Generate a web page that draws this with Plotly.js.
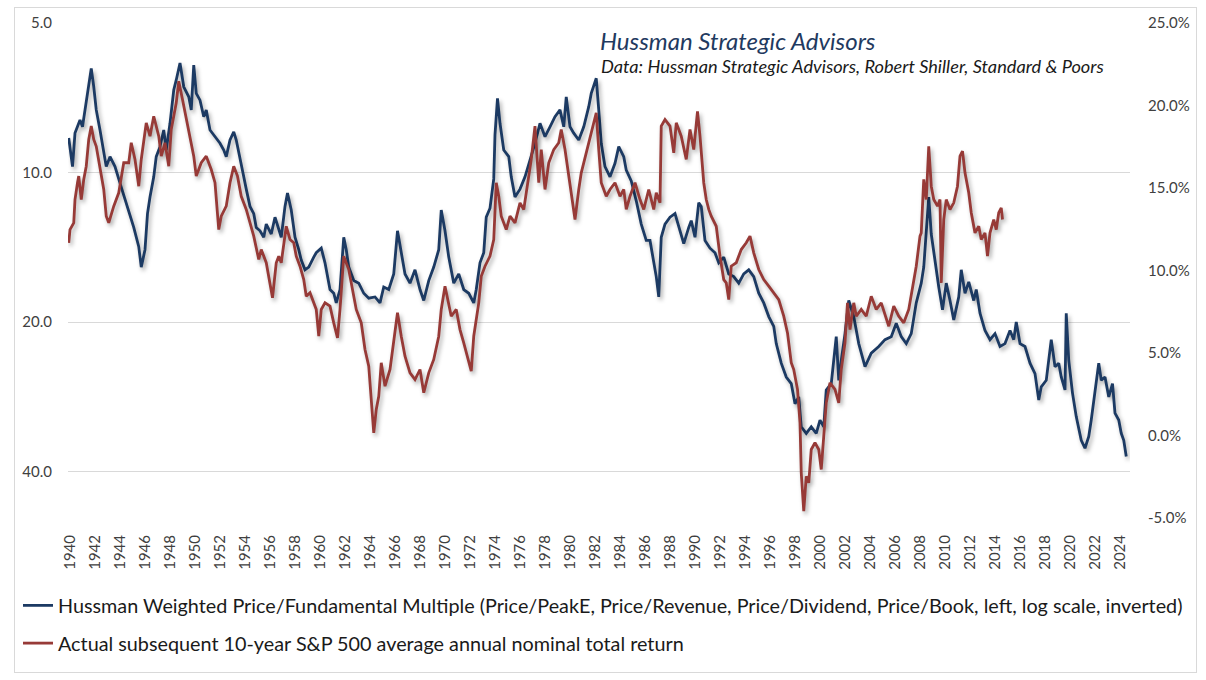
<!DOCTYPE html>
<html>
<head>
<meta charset="utf-8">
<script src="https://cdn.plot.ly/plotly-3.0.1.min.js"></script>
<style>
  html, body { margin: 0; padding: 0; background: #ffffff; }
  #wrap { position: relative; width: 1206px; height: 680px; }
  #chart { width: 1206px; height: 680px; }
  #frame { position: absolute; left: 14px; top: 7px; width: 1181px; height: 664px;
           border: 1px solid #d9d9d9; pointer-events: none; }
  .scatterlayer .js-line { filter: drop-shadow(2px 3px 2px rgba(0,0,0,0.33)); }
</style>
</head>
<body>
<div id="wrap">
  <div id="chart"></div>
  <div id="frame"></div>
</div>
<script>
// Hussman Weighted Price/Fundamental Multiple (left axis, log, inverted)
const blueYears = [
  1939.9,1940.2,1940.4,1940.8,1941.0,1941.2,1941.5,1941.7,1941.9,1942.1,1942.4,1942.7,1942.9,1943.2,1943.6,
  1944.0,1944.5,1945.1,1945.5,1945.7,1946.0,1946.2,1946.4,1946.7,1946.9,1947.2,1947.5,1947.7,1948.0,1948.3,
  1948.5,1948.8,1949.1,1949.5,1949.7,1949.9,1950.1,1950.4,1950.7,1950.9,1951.2,1951.6,1952.0,1952.3,1952.5,
  1952.8,1953.1,1953.3,1953.6,1953.9,1954.1,1954.4,1954.7,1954.9,1955.2,1955.5,1955.7,1956.1,1956.4,1956.7,
  1956.9,1957.2,1957.4,1957.7,1958.0,1958.3,1958.5,1958.8,1959.1,1959.5,1959.7,1960.1,1960.4,1960.8,1961.1,
  1961.3,1961.6,1961.9,1962.1,1962.3,1962.7,1963.1,1963.5,1963.9,1964.4,1964.8,1965.1,1965.5,1965.9,1966.2,
  1966.5,1966.8,1967.2,1967.6,1968.0,1968.3,1968.7,1969.1,1969.5,1969.7,1970.0,1970.3,1970.7,1971.1,1971.5,
  1971.9,1972.3,1972.5,1972.8,1973.1,1973.3,1973.6,1973.9,1974.0,1974.2,1974.4,1974.7,1975.1,1975.3,1975.6,
  1976.0,1976.4,1976.8,1977.2,1977.6,1978.0,1978.4,1978.8,1979.2,1979.5,1979.7,1980.0,1980.3,1980.7,1981.1,
  1981.5,1981.7,1982.1,1982.3,1982.5,1982.8,1983.2,1983.6,1983.9,1984.3,1984.5,1984.9,1985.3,1985.7,1986.1,
  1986.4,1986.7,1986.9,1987.1,1987.3,1987.6,1988.0,1988.4,1988.7,1989.1,1989.5,1989.7,1990.0,1990.3,1990.5,
  1990.8,1991.2,1991.6,1991.9,1992.3,1992.7,1993.1,1993.5,1993.9,1994.3,1994.7,1995.1,1995.5,1995.9,1996.3,
  1996.5,1996.9,1997.3,1997.7,1998.0,1998.3,1998.5,1998.9,1999.3,1999.7,2000.0,2000.3,2000.5,2000.9,2001.3,
  2001.5,2001.7,2002.0,2002.3,2002.7,2003.1,2003.6,2004.1,2004.7,2005.2,2005.7,2006.1,2006.5,2006.9,2007.3,
  2007.7,2008.1,2008.3,2008.5,2008.7,2008.9,2009.2,2009.5,2009.8,2010.1,2010.4,2010.7,2011.1,2011.3,2011.6,
  2011.9,2012.3,2012.5,2012.8,2013.2,2013.6,2014.0,2014.4,2014.8,2015.2,2015.5,2015.7,2016.0,2016.4,2016.8,
  2017.2,2017.5,2017.7,2018.1,2018.5,2018.8,2019.1,2019.3,2019.6,2019.7,2019.9,2020.2,2020.5,2020.9,2021.2,
  2021.5,2021.7,2022.0,2022.3,2022.5,2022.8,2023.1,2023.4,2023.6,2023.9,2024.1,2024.3,2024.5
];
const blueValues = [
  8.52,9.73,8.33,7.84,8.09,7.48,6.61,6.17,6.72,7.48,8.21,9.15,9.73,9.29,9.73,
  10.5,11.5,12.9,14.1,15.5,14.3,12.1,11.2,10.2,9.29,8.87,8.21,9.01,7.96,6.82,
  6.51,6.02,6.72,7.04,7.48,6.08,6.93,7.15,7.72,7.48,8.21,8.47,8.73,9.01,9.29,
  8.60,8.28,8.60,9.44,10.2,10.8,11.7,12.1,12.9,13.1,13.5,12.7,13.3,12.3,13.1,
  13.5,11.7,11.0,11.9,13.5,14.3,15.0,15.7,15.5,14.8,14.5,14.2,15.2,17.2,17.5,
  18.3,17.2,13.5,14.3,15.5,16.5,16.7,17.5,17.9,17.8,18.3,17.0,17.2,16.0,13.1,
  14.5,16.0,16.7,15.7,17.2,18.1,16.5,15.5,14.3,11.9,13.1,14.8,16.7,16.0,17.2,
  17.5,18.3,17.2,15.2,14.5,12.3,11.8,10.3,8.4,7.09,7.96,9.01,9.29,10.2,11.2,
  10.8,10.2,9.44,8.73,7.96,8.47,8.09,7.72,7.48,8.09,7.04,8.09,8.33,8.60,8.09,
  7.37,6.93,6.46,7.48,8.73,9.73,10.2,9.58,8.87,9.29,9.89,10.4,11.4,12.7,13.7,
  13.7,15.2,16.2,17.8,13.5,12.7,12.3,12.1,12.9,13.9,12.9,12.5,13.5,11.5,11.7,
  13.7,14.2,14.5,15.2,14.8,16.0,16.2,16.7,16.0,15.7,16.2,17.5,18.3,19.5,20.4,
  22.1,24.2,25.8,26.6,29.2,28.3,32.5,33.5,32.5,33.5,31.5,32.5,27.4,26.6,21.4,
  26.2,23.9,21.1,18.1,19.5,22.1,24.6,23.1,22.4,21.7,21.4,20.1,21.4,22.1,21.1,
  18.3,16.7,15.5,12.9,11.2,13.3,15.2,17.0,18.9,16.7,18.1,19.8,17.8,15.7,17.5,
  16.6,18.1,17.2,19.2,20.8,21.7,21.1,22.4,22.1,20.8,21.7,20.0,22.1,22.4,24.2,
  25.4,28.7,27.0,26.2,21.7,24.6,24.2,25.8,27.4,19.2,23.9,27.8,31.0,34.6,35.9,
  34.0,31.5,27.8,24.2,26.2,25.8,28.3,26.6,30.5,31.5,33.5,34.6,37.3
];

// Actual subsequent 10-year S&P 500 average annual nominal total return (%, right axis)
const redYears = [
  1939.9,1940.0,1940.3,1940.4,1940.6,1940.7,1940.9,1941.1,1941.3,1941.5,1941.7,1941.9,1942.1,1942.4,1942.7,
  1942.9,1943.1,1943.5,1943.9,1944.3,1944.7,1944.9,1945.2,1945.5,1945.7,1946.1,1946.4,1946.7,1947.1,1947.3,
  1947.6,1947.9,1948.1,1948.5,1948.7,1949.0,1949.3,1949.6,1949.9,1950.1,1950.5,1950.9,1951.3,1951.6,1951.9,
  1952.1,1952.5,1952.8,1953.1,1953.4,1953.7,1954.1,1954.4,1954.7,1955.1,1955.3,1955.7,1956.0,1956.2,1956.5,
  1956.7,1956.9,1957.3,1957.6,1957.9,1958.1,1958.4,1958.7,1958.9,1959.2,1959.5,1959.7,1959.9,1960.1,1960.4,
  1960.8,1961.1,1961.4,1961.6,1961.9,1962.3,1962.6,1962.9,1963.3,1963.6,1963.9,1964.1,1964.3,1964.5,1964.7,
  1964.9,1965.2,1965.6,1965.9,1966.2,1966.5,1966.8,1967.2,1967.6,1968.0,1968.3,1968.7,1969.1,1969.5,1969.7,
  1970.0,1970.3,1970.5,1970.9,1971.2,1971.5,1971.8,1972.1,1972.3,1972.7,1972.9,1973.2,1973.6,1973.9,1974.1,
  1974.3,1974.5,1974.9,1975.2,1975.6,1976.0,1976.3,1976.7,1976.9,1977.2,1977.5,1977.7,1978.0,1978.3,1978.7,
  1979.1,1979.3,1979.6,1979.9,1980.3,1980.4,1980.7,1980.9,1981.3,1981.7,1982.1,1982.3,1982.5,1982.9,1983.2,
  1983.6,1984.0,1984.3,1984.5,1984.8,1985.2,1985.6,1985.9,1986.3,1986.7,1986.9,1987.2,1987.3,1987.6,1988.0,
  1988.3,1988.5,1988.9,1989.3,1989.6,1989.9,1990.2,1990.4,1990.7,1990.9,1991.1,1991.3,1991.7,1992.0,1992.3,
  1992.5,1992.7,1992.9,1993.3,1993.7,1994.1,1994.4,1994.7,1995.1,1995.5,1995.9,1996.3,1996.7,1997.1,1997.4,
  1997.7,1997.9,1998.2,1998.4,1998.5,1998.7,1998.9,1999.1,1999.3,1999.6,1999.9,2000.1,2000.3,2000.5,2000.8,
  2001.2,2001.5,2001.7,2002.0,2002.2,2002.4,2002.7,2002.9,2003.3,2003.7,2004.1,2004.5,2004.9,2005.5,2005.9,
  2006.3,2006.7,2007.1,2007.5,2007.7,2008.0,2008.1,2008.3,2008.5,2008.7,2008.9,2009.1,2009.4,2009.6,2009.7,
  2009.9,2010.1,2010.4,2010.7,2011.0,2011.2,2011.4,2011.6,2011.9,2012.1,2012.4,2012.7,2012.9,2013.2,2013.4,
  2013.6,2013.9,2014.1,2014.3,2014.5,2014.6
];
const redValues = [
  11.68,12.48,12.89,14.30,15.32,15.72,14.30,15.52,16.32,17.94,18.75,17.94,17.53,16.12,14.91,
  13.29,12.89,13.90,14.71,16.53,16.53,17.74,16.73,15.11,16.73,18.95,18.14,19.35,18.14,16.93,
  17.74,16.32,18.55,20.16,21.47,20.36,19.15,18.14,16.93,15.72,16.53,16.93,16.12,15.32,12.48,
  13.29,13.90,15.32,16.32,15.72,14.50,13.70,12.89,12.08,10.67,11.27,10.47,9.25,8.35,10.47,
  10.87,10.47,12.68,11.88,11.68,10.87,10.26,9.45,8.44,8.65,8.04,7.64,6.02,7.64,8.04,
  7.84,6.83,5.92,7.64,10.87,10.06,8.85,7.64,6.83,5.21,4.20,2.38,0.16,1.58,2.38,
  4.41,2.99,4.00,5.62,7.44,6.02,4.81,3.80,3.39,4.00,2.59,3.80,4.61,6.02,7.64,
  9.05,8.04,7.23,7.64,6.42,5.62,4.81,3.90,6.02,8.04,9.65,10.26,10.87,11.88,15.32,
  14.50,13.29,12.48,13.29,12.89,14.10,13.70,15.72,16.73,18.75,15.32,17.33,14.91,16.53,17.33,
  17.74,18.55,17.33,15.72,13.70,13.09,14.91,15.92,17.13,18.35,19.56,17.33,15.32,14.50,14.91,
  15.32,14.50,14.91,13.70,14.50,15.32,14.30,13.70,14.91,13.70,14.71,14.10,18.75,19.15,18.75,
  17.13,18.95,18.14,16.73,18.55,17.33,19.65,18.14,15.32,14.30,13.70,13.29,12.68,10.87,9.45,
  9.25,8.24,10.26,10.47,11.27,11.68,12.08,11.07,10.06,9.45,9.05,8.65,8.24,7.23,6.22,
  4.41,4.00,2.79,0.77,-2.26,-4.59,-2.47,-2.87,-0.85,-0.44,-0.85,-2.06,-0.04,1.98,3.19,
  2.79,1.98,4.00,5.62,8.04,6.42,8.04,7.23,7.64,7.23,8.44,7.64,8.04,6.62,7.84,
  7.23,6.83,7.64,9.25,10.26,12.08,12.28,15.52,14.30,17.53,15.11,14.30,13.90,14.30,9.25,
  13.09,14.30,13.70,14.10,15.11,16.93,17.23,15.92,14.71,13.50,12.28,12.68,11.88,12.28,10.87,
  12.28,13.09,12.48,13.50,13.80,13.09
];

const leftTickVals = [5, 10, 20, 40];
const leftTickText = ['5.0', '10.0', '20.0', '40.0'];
const rightTickVals = [-5, 0, 5, 10, 15, 20, 25];
const rightTickText = ['-5.0%', '0.0%', '5.0%', '10.0%', '15.0%', '20.0%', '25.0%'];
const yearTicks = [];
for (let y = 1940; y <= 2024; y += 2) yearTicks.push(y);

const blueName = 'Hussman Weighted Price/Fundamental Multiple (Price/PeakE, Price/Revenue, Price/Dividend, Price/Book, left, log scale, inverted)';
const redName = 'Actual subsequent 10-year S&P 500 average annual nominal total return';

const FONT = 'Lato, "Open Sans", sans-serif';
const TICKCOL = '#404040';

const traces = [
  {
    x: blueYears, y: blueValues, type: 'scatter', mode: 'lines', name: blueName,
    yaxis: 'y', legendgroup: 'a',
    line: { color: '#1c3a63', width: 2.8 }
  },
  {
    x: redYears, y: redValues, type: 'scatter', mode: 'lines', name: redName,
    yaxis: 'y2', legendgroup: 'b',
    line: { color: '#973a37', width: 2.8 }
  }
];

const layout = {
  width: 1206, height: 680,
  margin: { l: 68, r: 76, t: 23, b: 162 },
  paper_bgcolor: '#ffffff', plot_bgcolor: '#ffffff',
  font: { family: FONT, color: TICKCOL },
  title: {
    text: 'Hussman Strategic Advisors',
    font: { family: FONT, size: 24, color: '#1f3a60', style: 'italic' },
    xref: 'container', yref: 'container',
    x: 600 / 1206, xanchor: 'left',
    y: 1 - 42 / 680, yanchor: 'middle'
  },
  annotations: [{
    text: 'Data: Hussman Strategic Advisors, Robert Shiller, Standard & Poors',
    xref: 'paper', yref: 'paper',
    x: (599 - 68) / 1062, xanchor: 'left',
    y: (518 - 66) / 495, yanchor: 'middle',
    showarrow: false,
    font: { family: FONT, size: 18.2, color: '#1a1a1a', style: 'italic' }
  }],
  xaxis: {
    range: [1939.84, 2024.8],
    tickmode: 'array', tickvals: yearTicks, ticktext: yearTicks.map(String),
    tickangle: -90,
    ticks: 'outside', ticklen: 10, tickcolor: 'rgba(0,0,0,0)',
    tickfont: { family: FONT, size: 15, color: TICKCOL },
    showgrid: false, zeroline: false, showline: false
  },
  yaxis: {
    type: 'log',
    range: [Math.log10(49.6), Math.log10(5)],
    tickmode: 'array', tickvals: leftTickVals, ticktext: leftTickText,
    ticks: 'outside', ticklen: 12, tickcolor: 'rgba(0,0,0,0)',
    tickfont: { family: FONT, size: 15, color: TICKCOL },
    showgrid: true, gridcolor: '#d9d9d9', gridwidth: 1,
    zeroline: false, showline: false
  },
  yaxis2: {
    overlaying: 'y', side: 'right',
    range: [-5, 25],
    tickmode: 'array', tickvals: rightTickVals, ticktext: rightTickText,
    ticks: 'outside', ticklen: 14, tickcolor: 'rgba(0,0,0,0)',
    tickfont: { family: FONT, size: 15, color: TICKCOL },
    showgrid: false, zeroline: false, showline: false
  },
  showlegend: true,
  legend: {
    orientation: 'v',
    traceorder: 'grouped',
    tracegroupgap: 9,
    x: (18 - 68) / 1062, xanchor: 'left',
    y: (518 - 586) / 495, yanchor: 'top',
    font: { family: FONT, size: 19.8, color: '#1a1a1a' },
    itemwidth: 30,
    bgcolor: 'rgba(0,0,0,0)'
  }
};

Plotly.newPlot('chart', traces, layout, { displayModeBar: false, staticPlot: true });
</script>
</body>
</html>
